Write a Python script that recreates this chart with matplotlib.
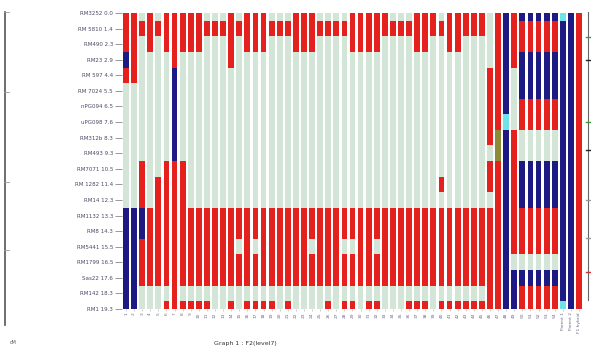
import matplotlib
matplotlib.use("Agg")
import matplotlib.pyplot as plt
from matplotlib.lines import Line2D

markers = ["RM3252 0.0", "RM 5810 1.4", "RM490 2.3", "RM23 2.9", "RM 597 4.4",
           "RM 7024 5.5", "nPG094 6.5", "uPG098 7.6", "RM312b 8.3", "RM493 9.3",
           "RM7071 10.5", "RM 1282 11.4", "RM14 12.3", "RM1132 13.3", "RM8 14.3",
           "RM5441 15.5", "RM1799 16.5", "Sas22 17.6", "RM142 18.3", "RM1 19.3"]

samples = [str(i) for i in range(1, 55)] + ["Parent 1", "Parent 2", "F1 hybrid"]

# one string per sample, top marker first
genotypes = [
    "RRRBRGGGGGGGGBBBBBBB", "RRRRRGGGGGGGGBBBBBBB", "GRGGGGGGGGRRRBBRRRGG",
    "RRRGGGGGGGGGGRRRRRGG", "GRGGGGGGGGGRRRRRRRGG", "RRRGGGGGGGRRRRRRRRGR",
    "RRRRBBBBBBRRRRRRRRRR", "RRRGGGGGGGRRRRRRRRGR", "RRRGGGGGGGGGGRRRRRGR",
    "RRRGGGGGGGGGGRRRRRGR", "GRGGGGGGGGGGGRRRRRGR", "GRGGGGGGGGGGGRRRRRGG",
    "GRGGGGGGGGGGGRRRRRGG", "RRRRGGGGGGGGGRRRRRGR", "GRGGGGGGGGGGGRRGRRGG",
    "RRRGGGGGGGGGGRRRRRGR", "RRRGGGGGGGGGGRRGRRGR", "RRRGGGGGGGGGGRRRRRGR",
    "GRGGGGGGGGGGGRRRRRGR", "GRGGGGGGGGGGGRRRRRGG", "GRGGGGGGGGGGGRRRRRGR",
    "RRRGGGGGGGGGGRRRRRGG", "RRRGGGGGGGGGGRRRRRGG", "RRRGGGGGGGGGGRRGRRGG",
    "GRGGGGGGGGGGGRRRRRGG", "GRGGGGGGGGGGGRRRRRGR", "GRGGGGGGGGGGGRRRRRGG",
    "GRGGGGGGGGGGGRRGRRGR", "RRRGGGGGGGGGGRRGRRGR", "RRRGGGGGGGGGGRRRRRGG",
    "RRRGGGGGGGGGGRRRRRGR", "RRRGGGGGGGGGGRRGRRGR", "RRGGGGGGGGGGGRRRRRGG",
    "GRGGGGGGGGGGGRRRRRGG", "GRGGGGGGGGGGGRRRRRGG", "GRGGGGGGGGGGGRRRRRGR",
    "RRRGGGGGGGGGGRRRRRGR", "RRRGGGGGGGGGGRRRRRGR", "RRGGGGGGGGGGGRRRRRGG",
    "GRGGGGGGGGGRGRRRRRGR", "RRRGGGGGGGGGGRRRRRGR", "RRRGGGGGGGGGGRRRRRGR",
    "RRGGGGGGGGGGGRRRRRGR", "RRGGGGGGGGGGGRRRRRGR", "RRGGGGGGGGGGGRRRRRGR",
    "GGGGRRRRRGRRGRRRRRRR", "RRRRRRRROORRRRRRRRRR", "BBBBBBBCBBBBBBBBBBBB",
    "RRRRGGGGRRRRRRRRGBBB", "BRRBBBRRGGBBBRRRGBRR", "BRRBBBRRGGBBBRRRGBRR",
    "BRRBBBRRGGBBBRRRGBRR", "BRRBBBRRGGBBBRRRGBRR", "BRRBBBRRGGBBBRRRGBRR",
    "CBBBBBBBBBBBBBBBBBBC", "BBBBBBBBBBBBBBBBBBBB", "RRRRRRRRRRRRRRRRRRRR",
]

colors = {"R": "#e4211c", "B": "#1d1a84", "G": "#d3e5d6",
          "C": "#70e3e6", "O": "#8c8b36"}

fig = plt.figure(figsize=(5.91, 3.49), dpi=100)
ax = fig.add_axes([122 / 591, 1 - 309 / 349, 461 / 591, 296 / 349])

last = len(markers) - 1
for j, col in enumerate(genotypes):
    start = 0
    for i in range(1, len(col) + 1):
        if i == len(col) or col[i] != col[start]:
            lo = max(start - 0.5, 0)
            hi = min(i - 0.5, last)
            ax.bar(j, hi - lo, bottom=lo, width=0.72,
                   color=colors[col[start]], linewidth=0)
            start = i

ax.set_xlim(-0.5, len(genotypes) - 0.5)
ax.set_ylim(last, 0)
for s in ax.spines.values():
    s.set_visible(False)

ax.set_yticks(range(len(markers)))
ax.set_yticklabels(markers, fontsize=4, color="#4a4a66")
ax.tick_params(axis="y", length=5, width=0.6, color="#888888", pad=1.5)

ax.set_xticks(range(len(samples)))
ax.set_xticklabels(samples, fontsize=3.2, rotation=90, color="#6a6a88")
ax.tick_params(axis="x", length=1.5, width=0.4, color="#aaaaaa", pad=1)

# frame on the left
fig.add_artist(Line2D([5 / 591, 5 / 591], [1 - 12 / 349, 1 - 325 / 349],
                      color="#555555", lw=1.2))
for yp in [12, 92, 182, 250]:
    fig.add_artist(Line2D([4 / 591, 9 / 591], [1 - yp / 349, 1 - yp / 349],
                          color="#999999", lw=0.6))
fig.text(10 / 591, 1 - 343 / 349, "cM", fontsize=3.5, color="#555555",
         ha="left", va="center")

# cut-off legend frame on the right
fig.add_artist(Line2D([588 / 591, 588 / 591], [1 - 12 / 349, 1 - 300 / 349],
                      color="#666666", lw=0.8))
for yp, c in [(37, "#3a9a3a"), (60, "#222222"), (122, "#3a9a3a"),
              (150, "#222222"), (200, "#999999"), (238, "#999999"),
              (272, "#cc3333")]:
    fig.add_artist(Line2D([586 / 591, 590 / 591], [1 - yp / 349, 1 - yp / 349],
                          color=c, lw=1.0))

fig.text(245 / 591, 1 - 343 / 349, "Graph 1 : F2(level7)", fontsize=4.5,
         color="#333333", ha="center", va="center")

fig.savefig("out.png", dpi=100)
